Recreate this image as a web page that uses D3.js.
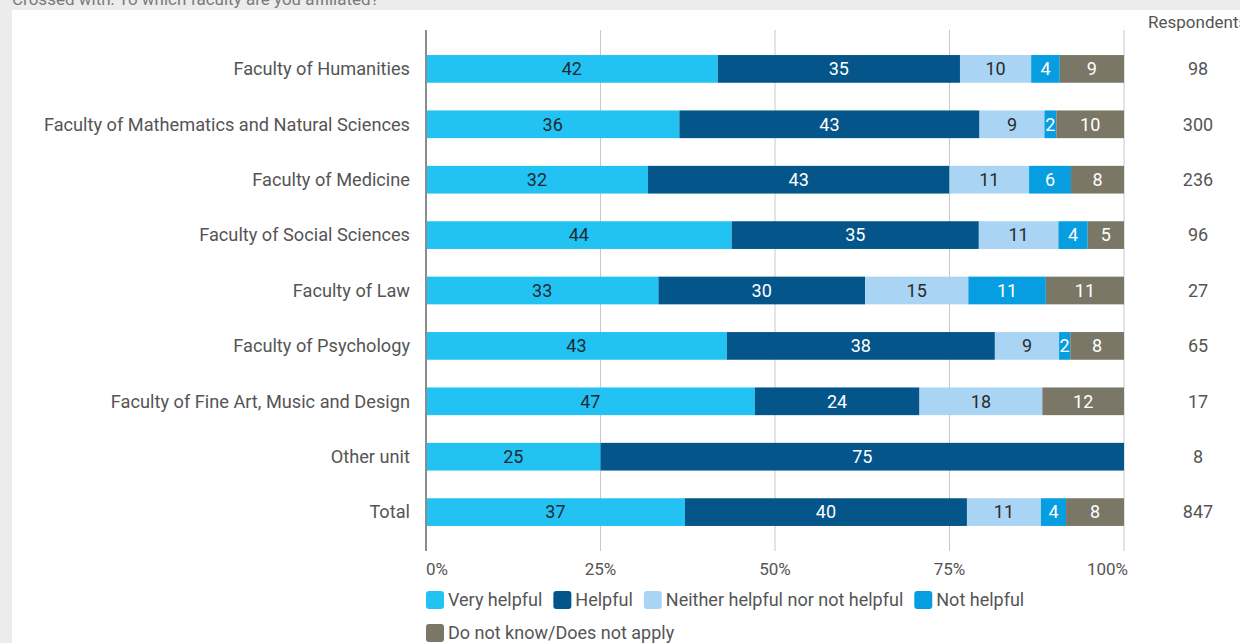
<!DOCTYPE html>
<meta charset="utf-8">
<title>Helpfulness by faculty</title>
<style>
  body { margin: 0; background-color: #ececec; overflow: hidden; }
  text { font-family: Roboto, "Noto Sans", sans-serif; }
</style>
<body>
  <script src="https://cdn.jsdelivr.net/npm/d3@7/dist/d3.min.js"></script>
  <script>

const categories = [
  "Faculty of Humanities",
  "Faculty of Mathematics and Natural Sciences",
  "Faculty of Medicine",
  "Faculty of Social Sciences",
  "Faculty of Law",
  "Faculty of Psychology",
  "Faculty of Fine Art, Music and Design",
  "Other unit",
  "Total"
];
const respondents = [98, 300, 236, 96, 27, 65, 17, 8, 847];

const seriesNames = ["Very helpful", "Helpful", "Neither helpful nor not helpful", "Not helpful", "Do not know/Does not apply"];
const veryHelpful = [41.8, 36.3, 31.8, 43.8, 33.3, 43.1, 47.1, 25, 37.1];
const helpful     = [34.7, 43.0, 43.2, 35.4, 29.6, 38.4, 23.6, 75, 40.4];
const neither     = [10.2, 9.3, 11.4, 11.4, 14.8, 9.2, 17.6, 0, 10.6];
const notHelpful  = [4.1, 1.7, 6.0, 4.2, 11.1, 1.6, 0, 0, 3.6];
const doNotKnow   = [9.2, 9.7, 7.6, 5.2, 11.2, 7.7, 11.7, 0, 8.3];
const ticks = [0, 25, 50, 75, 100];

const colors = ["#22c3f3", "#03558a", "#a9d4f4", "#069ee0", "#7a7766"];
const textColors = ["#1d2b36", "#ffffff", "#2b2b2b", "#ffffff", "#ffffff"];

const width = 1240, height = 643;
const svg = d3.select("body").append("svg")
    .attr("width", width)
    .attr("height", height);

// page background
svg.append("rect").attr("width", width).attr("height", height).attr("fill", "#ececec");
svg.append("rect").attr("x", 12).attr("y", 10).attr("width", width - 12).attr("height", height - 10).attr("fill", "#ffffff");
svg.append("text")
    .attr("x", 12).attr("y", 5)
    .attr("fill", "#7a7a7a")
    .style("font-size", "17px")
    .text("Crossed with: To which faculty are you affiliated?");

const x = d3.scaleLinear().domain([0, 100]).range([426, 1124]);
const y = d3.scaleBand().domain(categories).range([41.2, 539.8]).paddingInner(0.5).paddingOuter(0.25);

// grid
svg.append("g").selectAll("line")
  .data(ticks.slice(1))
  .enter().append("line")
    .attr("x1", d => x(d)).attr("x2", d => x(d))
    .attr("y1", 30).attr("y2", 551)
    .attr("stroke", "#c8c8c8").attr("stroke-width", 1);

// stacked data
const table = categories.map((c, i) => {
  const row = { category: c };
  [veryHelpful, helpful, neither, notHelpful, doNotKnow].forEach((s, k) => row[seriesNames[k]] = s[i]);
  return row;
});
const stack = d3.stack().keys(seriesNames)(table);

const layers = svg.append("g").selectAll("g")
  .data(stack)
  .enter().append("g")
    .attr("fill", (d, i) => colors[i]);

layers.selectAll("rect")
  .data(d => d)
  .enter().append("rect")
    .attr("x", d => x(d[0]))
    .attr("width", d => x(d[1]) - x(d[0]))
    .attr("y", d => y(d.data.category))
    .attr("height", y.bandwidth());

layers.each(function(layer, i) {
  const key = layer.key;
  d3.select(this).selectAll("text")
    .data(layer.filter(d => d.data[key] > 0))
    .enter().append("text")
      .attr("x", d => (x(d[0]) + x(d[1])) / 2)
      .attr("y", d => y(d.data.category) + y.bandwidth() / 2)
      .attr("dy", "0.35em")
      .attr("text-anchor", "middle")
      .attr("fill", textColors[i])
      .style("font-size", "18px")
      .text(d => Math.round(d.data[key]));
});

// zero axis line
svg.append("line")
    .attr("x1", x(0)).attr("x2", x(0))
    .attr("y1", 30).attr("y2", 551)
    .attr("stroke", "#8c8c8c").attr("stroke-width", 2);

// category labels
svg.append("g").selectAll("text")
  .data(categories)
  .enter().append("text")
    .attr("x", 410)
    .attr("y", d => y(d) + y.bandwidth() / 2)
    .attr("dy", "0.35em")
    .attr("text-anchor", "end")
    .attr("fill", "#555")
    .style("font-size", "18.2px")
    .text(d => d);

// respondents column
svg.append("text")
    .attr("x", 1148).attr("y", 28)
    .attr("fill", "#555")
    .style("font-size", "17px")
    .text("Respondents");
svg.append("g").selectAll("text")
  .data(respondents)
  .enter().append("text")
    .attr("x", 1198)
    .attr("y", (d, i) => y(categories[i]) + y.bandwidth() / 2)
    .attr("dy", "0.35em")
    .attr("text-anchor", "middle")
    .attr("fill", "#555")
    .style("font-size", "18px")
    .text(d => d);

// tick labels
svg.append("g").selectAll("text")
  .data(ticks)
  .enter().append("text")
    .attr("x", (d, i) => i === ticks.length - 1 ? x(d) + 4 : x(d))
    .attr("y", 569)
    .attr("dy", "0.35em")
    .attr("text-anchor", (d, i) => i === 0 ? "start" : i === ticks.length - 1 ? "end" : "middle")
    .attr("fill", "#555")
    .style("font-size", "17px")
    .text(d => d + "%");

// legend
const legendRows = [[0, 1, 2, 3], [4]];
legendRows.forEach((row, r) => {
  let lx = 426;
  const ly = 600 + r * 33;
  row.forEach(k => {
    svg.append("rect")
      .attr("x", lx).attr("y", ly - 9)
      .attr("width", 18).attr("height", 18)
      .attr("rx", 3)
      .attr("fill", colors[k]);
    const t = svg.append("text")
      .attr("x", lx + 22).attr("y", ly)
      .attr("dy", "0.35em")
      .attr("fill", "#555")
      .style("font-size", "18px")
      .text(seriesNames[k]);
    lx += 22 + t.node().getComputedTextLength() + 11;
  });
});

  </script>
</body>
